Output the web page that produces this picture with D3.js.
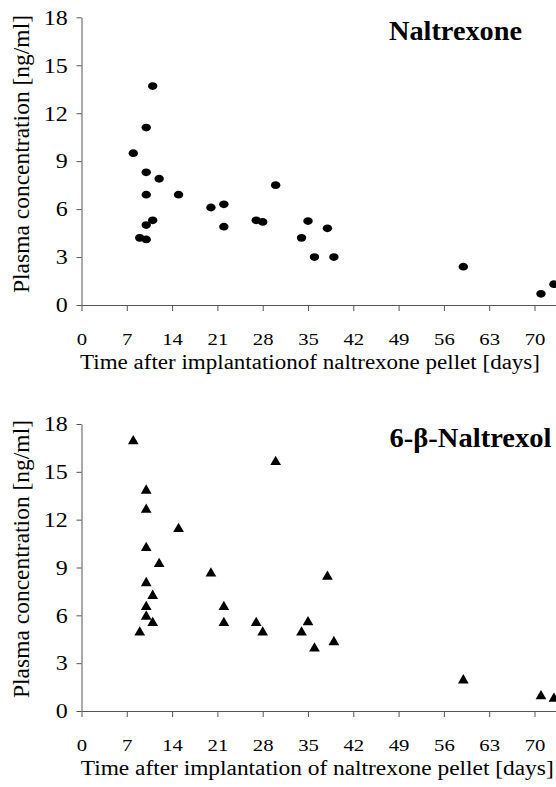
<!DOCTYPE html>
<html><head><meta charset="utf-8">
<script src="https://cdn.jsdelivr.net/npm/d3@7/dist/d3.min.js"></script>
<style>body{margin:0;background:#fff}svg{display:block}</style>
</head><body>
<svg id="chart" width="556" height="787"></svg>
<script>
// ---- data ----
const xTicks = [0, 7, 14, 21, 28, 35, 42, 49, 56, 63, 70];
const yTicks = [0, 3, 6, 9, 12, 15, 18];

const naltrexoneDays   = [8, 9, 10, 10, 10, 10, 10, 11, 11, 12, 15, 20, 22, 22, 27, 28, 30, 34, 35, 36, 38, 39, 59, 71, 73];
const naltrexoneValues = [9.5, 4.2, 11.1, 8.3, 6.9, 5.0, 4.1, 13.7, 5.3, 7.9, 6.9, 6.1, 6.3, 4.9, 5.3, 5.2, 7.5, 4.2, 5.25, 3.0, 4.8, 3.0, 2.4, 0.7, 1.3];

const naltrexolDays   = [8, 9, 10, 10, 10, 10, 10, 10, 11, 11, 12, 15, 20, 22, 22, 27, 28, 30, 34, 35, 36, 38, 39, 59, 71, 73];
const naltrexolValues = [17.0, 5.0, 13.9, 12.7, 10.3, 8.1, 6.6, 6.0, 7.3, 5.6, 9.3, 11.5, 8.7, 6.6, 5.6, 5.6, 5.0, 15.7, 5.0, 5.65, 4.0, 8.5, 4.4, 2.0, 1.0, 0.85];

const panelTitles = ["Naltrexone", "6-\u03B2-Naltrexol"];
const xTitles = ["Time after implantationof naltrexone pellet [days]", "Time after implantation of naltrexone pellet [days]"];
const yTitle = "Plasma concentration [ng/ml]";

// ---- drawing ----
const svg = d3.select("#chart");
const W = 556;
const FONT = "Liberation Serif";
const AXIS = "#555";
const x = d3.scaleLinear().domain([0, 70]).range([81.5, 534.5]);

const panels = [
  {top: 17.3, bottom: 305, days: naltrexoneDays, values: naltrexoneValues, marker: "circle",
   title: panelTitles[0], titleX: 389, titleY: 39.5, titleLen: 133,
   xTitle: xTitles[0], xTitleX: 80, xTitleLen: 460, yTitleC: 154},
  {top: 424, bottom: 711, days: naltrexolDays, values: naltrexolValues, marker: "triangle",
   title: panelTitles[1], titleX: 389.5, titleY: 446.5, titleLen: 162,
   xTitle: xTitles[1], xTitleX: 80.7, xTitleLen: 473, yTitleC: 559}
];

panels.forEach(p => {
  const y = d3.scaleLinear().domain([0, 18]).range([p.bottom, p.top]);
  const g = svg.append("g");

  // y axis
  const ya = g.append("g").attr("transform", `translate(${x(0)},0)`)
    .call(d3.axisLeft(y).tickValues(yTicks).tickSize(5).tickSizeOuter(0));
  ya.select(".domain").attr("stroke", AXIS);
  ya.selectAll(".tick line").attr("stroke", AXIS);
  ya.selectAll(".tick text")
    .attr("font-family", FONT).attr("font-size", 20).attr("fill", "#000")
    .attr("x", -11.5).attr("dy", "0.34em")
    .attr("transform", "scale(1.2,1)");

  // x axis
  const xa = g.append("g").attr("transform", `translate(0,${p.bottom})`)
    .call(d3.axisBottom(x).tickValues(xTicks).tickSize(6).tickSizeOuter(0));
  xa.select(".domain").remove();
  xa.append("line").attr("x1", x(0)).attr("x2", W).attr("y1", 0.5).attr("y2", 0.5).attr("stroke", AXIS);
  xa.selectAll(".tick line").attr("stroke", AXIS);
  xa.selectAll(".tick text")
    .attr("font-family", FONT).attr("font-size", 17).attr("fill", "#000")
    .attr("y", 40).attr("dy", 0)
    .attr("transform", "scale(1.22,1)");

  // axis titles
  g.append("text").attr("x", p.xTitleX).attr("y", p.bottom + 64)
    .attr("font-family", FONT).attr("font-size", 20.5)
    .attr("textLength", p.xTitleLen).attr("lengthAdjust", "spacingAndGlyphs")
    .text(p.xTitle);
  g.append("text").attr("transform", `translate(28.5,${p.yTitleC}) rotate(-90)`)
    .attr("text-anchor", "middle")
    .attr("font-family", FONT).attr("font-size", 23)
    .attr("textLength", 278).attr("lengthAdjust", "spacingAndGlyphs")
    .text(yTitle);

  // panel title
  g.append("text").attr("x", p.titleX).attr("y", p.titleY)
    .attr("font-family", FONT).attr("font-size", 27).attr("font-weight", "bold")
    .attr("textLength", p.titleLen).attr("lengthAdjust", "spacingAndGlyphs")
    .text(p.title);

  // markers
  const data = p.days.map((d, i) => ({d, v: p.values[i]}));
  if (p.marker === "circle") {
    g.append("g").selectAll("ellipse").data(data).join("ellipse")
      .attr("cx", d => x(d.d)).attr("cy", d => y(d.v))
      .attr("rx", 4.7).attr("ry", 3.9).attr("fill", "#000");
  } else {
    const tri = d3.symbol().type(d3.symbolTriangle).size(50);
    g.append("g").selectAll("path").data(data).join("path")
      .attr("d", tri)
      .attr("transform", d => `translate(${x(d.d)},${y(d.v) + 1.2})`)
      .attr("fill", "#000");
  }
});
</script>
</body></html>
